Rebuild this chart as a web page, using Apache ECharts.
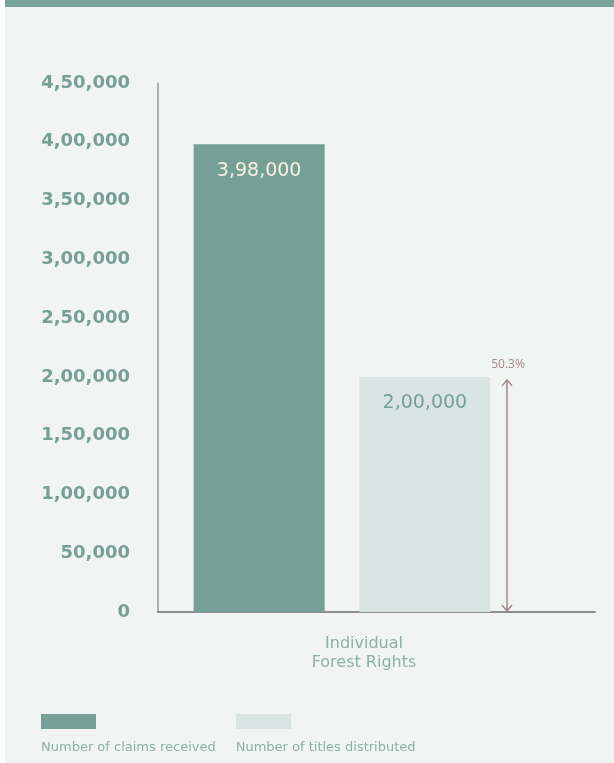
<!DOCTYPE html>
<html>
<head>
    <meta charset="UTF-8">
    <title>Individual Forest Rights</title>
    <script src="https://cdn.jsdelivr.net/npm/echarts@6/dist/echarts.min.js"></script>
</head>
<body style="margin: 0;overflow: hidden;background: #fff;width: 614px;height: 763px;">
<div id="chart" style="position: absolute;left: 5px;top: 0;width: 609px;height: 763px;background: #f0f4f2;"></div>
<script type="text/javascript">
    var categories = ['Individual\nForest Rights'];
    var seriesNames = ['Number of claims received', 'Number of titles distributed'];
    var claims = [398000];
    var titles = [200000];
    var yTicks = [0, 50000, 100000, 150000, 200000, 250000, 300000, 350000, 400000, 450000];

    var teal = '#76a096';
    var pale = '#d8e4e1';
    var brown = '#a28b87';
    var font = 'DejaVu Sans';

    // Indian digit grouping: 4,50,000
    function indian(v) {
        var s = String(v);
        if (s.length <= 3) return s;
        var last = s.slice(-3);
        var rest = s.slice(0, -3).replace(/\B(?=(\d{2})+(?!\d))/g, ',');
        return rest + ',' + last;
    }

    var pct = (titles[0] / claims[0] * 100).toFixed(1) + '%';

    var chart = echarts.init(document.getElementById('chart'), null, {renderer: 'canvas'});
    var option = {
        animation: false,
        graphic: [{
            type: 'rect',
            left: 0,
            top: 0,
            shape: {width: 609, height: 7},
            style: {fill: '#78a197'}
        }],
        legend: [{
            data: seriesNames,
            left: 31,
            top: 709,
            icon: 'rect',
            itemWidth: 55,
            itemHeight: 15,
            itemGap: 140,
            formatter: function () { return ''; },
            selectedMode: false
        }, {
            data: seriesNames,
            left: 26,
            top: 736,
            icon: 'rect',
            itemWidth: 0,
            itemHeight: 0,
            itemGap: 15,
            textStyle: {color: '#8cb0a7', fontSize: 13, fontFamily: font},
            selectedMode: false
        }],
        grid: [{
            left: 153, right: 88, top: 83, bottom: 151
        }, {
            left: 153, right: 19, top: 83, bottom: 151
        }],
        xAxis: [{
            type: 'category',
            gridIndex: 0,
            data: categories,
            axisLine: {show: false},
            axisTick: {show: false},
            axisLabel: {
                color: '#8cb0a7',
                fontSize: 16,
                fontFamily: font,
                lineHeight: 19,
                margin: 22,
                padding: [0, 0, 0, 44]
            }
        }, {
            type: 'value',
            gridIndex: 1,
            min: 0,
            max: 1,
            axisLine: {show: true, lineStyle: {color: '#8e8e8e', width: 2}},
            axisTick: {show: false},
            axisLabel: {show: false},
            splitLine: {show: false}
        }],
        yAxis: [{
            type: 'value',
            gridIndex: 0,
            min: yTicks[0],
            max: yTicks[yTicks.length - 1],
            interval: yTicks[1] - yTicks[0],
            axisLine: {show: true, lineStyle: {color: '#9a9a9a', width: 1.5}},
            axisTick: {show: false},
            splitLine: {show: false},
            axisLabel: {
                color: teal,
                fontSize: 18,
                fontWeight: 'bold',
                fontFamily: font,
                margin: 28,
                formatter: indian
            }
        }, {
            type: 'value',
            gridIndex: 1,
            show: false
        }],
        series: [{
            name: seriesNames[0],
            type: 'bar',
            data: claims,
            barWidth: 131,
            barGap: '26.5%',
            itemStyle: {color: teal},
            label: {
                show: true,
                position: 'insideTop',
                distance: 17,
                color: '#f6f0e2',
                fontSize: 19,
                fontFamily: font,
                formatter: function (p) { return indian(p.value); }
            }
        }, {
            name: seriesNames[1],
            type: 'bar',
            data: titles,
            barWidth: 131,
            itemStyle: {color: pale},
            label: {
                show: true,
                position: 'insideTop',
                distance: 17,
                color: teal,
                fontSize: 19,
                fontFamily: font,
                formatter: function (p) { return indian(p.value); }
            }
        }, {
            // arrow showing share of titles vs claims, right of the second bar
            type: 'custom',
            xAxisIndex: 0,
            yAxisIndex: 0,
            data: [[0, 0, titles[0]]],
            renderItem: function (params, api) {
                var bottom = api.coord([api.value(0), api.value(1)]);
                var top = api.coord([api.value(0), api.value(2)]);
                var x = bottom[0] + 165;
                var yb = bottom[1] - 1;
                var yt = top[1] + 3;
                var st = {stroke: brown, lineWidth: 1.5, fill: null};
                return {
                    type: 'group',
                    children: [{
                        type: 'line',
                        shape: {x1: x, y1: yt, x2: x, y2: yb},
                        style: st
                    }, {
                        type: 'polyline',
                        shape: {points: [[x - 5, yt + 6], [x, yt], [x + 5, yt + 6]]},
                        style: st
                    }, {
                        type: 'polyline',
                        shape: {points: [[x - 5, yb - 6], [x, yb], [x + 5, yb - 6]]},
                        style: st
                    }, {
                        type: 'text',
                        style: {
                            text: pct,
                            x: x + 1,
                            y: yt - 15,
                            align: 'center',
                            verticalAlign: 'middle',
                            fill: brown,
                            fontSize: 12,
                            fontFamily: 'Open Sans'
                        }
                    }]
                };
            }
        }]
    };
    chart.setOption(option);
</script>
</body>
</html>
